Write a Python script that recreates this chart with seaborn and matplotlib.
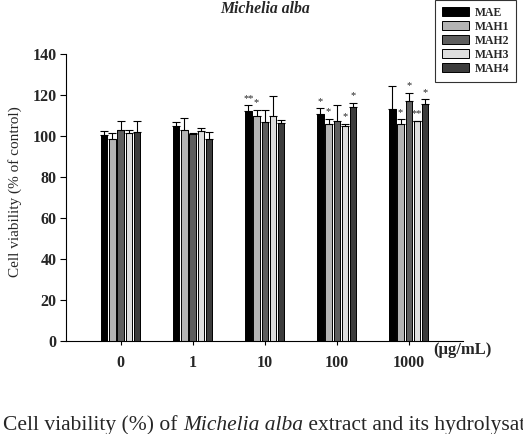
import numpy as np
import pandas as pd
import matplotlib
matplotlib.use('Agg')
import matplotlib.pyplot as plt
from matplotlib.patches import Patch
import seaborn as sns

doses = ['0', '1', '10', '100', '1000']
samples = ['MAE', 'MAH1', 'MAH2', 'MAH3', 'MAH4']

# mean cell viability, one list per sample, across doses
mae = [100.8, 104.9, 112.2, 110.6, 113.2]
mah1 = [98.7, 103.2, 109.8, 106.2, 105.9]
mah2 = [103.2, 101.3, 107.0, 107.5, 117.1]
mah3 = [101.5, 102.4, 110.1, 105.2, 107.3]
mah4 = [102.1, 98.7, 106.5, 114.3, 115.6]

# upper SD
sd_mae = [1.6, 2.1, 2.8, 3.2, 11.2]
sd_mah1 = [2.9, 5.8, 3.2, 2.4, 2.4]
sd_mah2 = [4.4, 0.3, 6.0, 7.8, 4.2]
sd_mah3 = [1.7, 1.6, 9.4, 1.0, 0.3]
sd_mah4 = [5.2, 3.6, 1.3, 2.1, 2.4]

# significance marks
sig_mae = ['', '', '**', '*', '']
sig_mah1 = ['', '', '*', '*', '*']
sig_mah2 = ['', '', '', '', '*']
sig_mah3 = ['', '', '', '*', '**']
sig_mah4 = ['', '', '', '*', '*']

colors = ['#000000', '#b4b4b4', '#5e5e5e', '#dedede', '#3c3c3c']

means = [mae, mah1, mah2, mah3, mah4]
sds = [sd_mae, sd_mah1, sd_mah2, sd_mah3, sd_mah4]
sigs = [sig_mae, sig_mah1, sig_mah2, sig_mah3, sig_mah4]

rows = []
for s, m, e, g in zip(samples, means, sds, sigs):
    for d, v, err, star in zip(doses, m, e, g):
        rows.append({'dose': d, 'sample': s, 'viability': v, 'sd': err, 'sig': star})
df = pd.DataFrame(rows)

sns.set_style('white')
plt.rcParams['font.family'] = ['Liberation Serif', 'DejaVu Serif']

fig = plt.figure(figsize=(5.23, 4.34), dpi=100)
ax = fig.add_axes([0.126, 0.214, 0.759, 0.661])

sns.barplot(data=df, x='dose', y='viability', hue='sample', order=doses,
            hue_order=samples, palette=colors, width=0.57, gap=0.22,
            edgecolor='black', linewidth=0.7, errorbar=None, legend=False, ax=ax)

# error bars and stars from the bar patches
bars = [p for p in ax.patches if p.get_width() > 0]
for i, s in enumerate(samples):
    sub = df[df['sample'] == s].reset_index(drop=True)
    for j in range(len(doses)):
        p = bars[i * len(doses) + j]
        xc = p.get_x() + p.get_width() / 2
        top = sub['viability'][j]
        err = sub['sd'][j]
        ax.errorbar(xc, top, yerr=[[0], [err]], fmt='none', ecolor='black',
                    elinewidth=0.8, capsize=3.2, capthick=0.8)
        if sub['sig'][j]:
            ax.text(xc, top + err + 1.0, sub['sig'][j], ha='center', va='bottom',
                    fontsize=7.5)

ax.set_ylim(0, 140)
ax.set_xlim(-0.76, 4.75)
ax.set_yticks(range(0, 141, 20))
ax.set_yticklabels([str(v) for v in range(0, 141, 20)], fontweight='bold', fontsize=11.5)
ax.set_xticklabels(doses, fontweight='bold', fontsize=11.5)
ax.set_xlabel('')
ax.set_ylabel('Cell viability (% of control)', fontsize=11)
ax.yaxis.set_label_coords(-0.111, 0.52)
ax.tick_params(axis='y', direction='out', length=4.5, width=0.8, color='black',
               left=True, pad=2)
ax.tick_params(axis='x', direction='out', length=3, width=0.8, color='black',
               bottom=True, pad=7)
for side in ['top', 'right']:
    ax.spines[side].set_visible(False)
for side in ['left', 'bottom']:
    ax.spines[side].set_color('black')
    ax.spines[side].set_linewidth(0.8)

fig.text(0.507, 0.998, 'Michelia alba', ha='center', va='top', fontsize=11.3,
         fontweight='bold', fontstyle='italic')
fig.text(0.828, 0.193, '(\u03bcg/mL)', ha='left', va='center', fontsize=12,
         fontweight='bold')

handles = [Patch(facecolor=c, edgecolor='black', linewidth=0.7) for c in colors]
leg = fig.legend(handles, samples, loc='upper left', bbox_to_anchor=(0.832, 1.001),
                 frameon=True, fancybox=False, edgecolor='black',
                 prop={'weight': 'bold', 'size': 8.5}, handlelength=2.3,
                 handleheight=0.75, labelspacing=0.17, handletextpad=0.45,
                 borderpad=0.6, borderaxespad=0)
leg.get_frame().set_linewidth(0.8)

# caption under the figure, cut at the right edge as in the source
cap_y = (434 - 430) / 434
t1 = fig.text(0.006, cap_y, 'Cell viability (%) of ', fontsize=15.5, ha='left',
              va='baseline')
fig.canvas.draw()
x2 = t1.get_window_extent().x1 / fig.bbox.width
t2 = fig.text(x2, cap_y, 'Michelia alba', fontsize=15.5, ha='left',
              va='baseline', fontstyle='italic')
fig.canvas.draw()
x3 = t2.get_window_extent().x1 / fig.bbox.width
fig.text(x3, cap_y, ' extract and its hydrolysat', fontsize=15.5,
         ha='left', va='baseline')

fig.savefig('out.png', dpi=100)
